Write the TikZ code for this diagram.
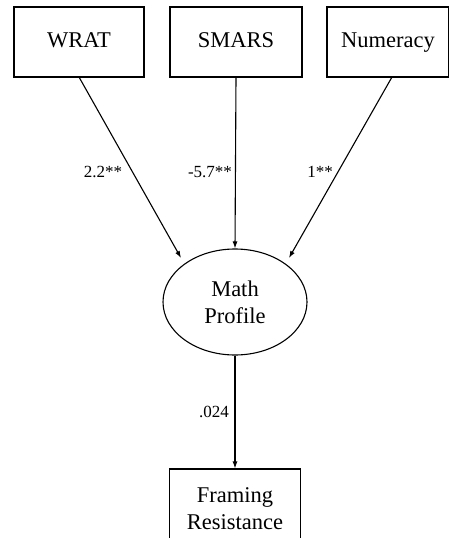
\documentclass[tikz,border=0pt]{standalone}
\usepackage{fontspec}
\setmainfont{Liberation Serif}
\usetikzlibrary{arrows.meta,shapes.geometric}
\begin{document}
\begin{tikzpicture}[x=1pt,y=-1pt,
  obs/.style={draw,line width=1.1pt,minimum width=130pt,minimum height=70pt,inner sep=0pt,font=\fontsize{22.5}{27}\selectfont,align=center},
  lat/.style={draw,ellipse,line width=1.1pt,minimum width=144pt,minimum height=106pt,inner sep=0pt,font=\fontsize{22.5}{27}\selectfont,align=center},
  path/.style={line width=1.1pt,-{Latex[length=7pt,width=5pt]}},
  lbl/.style={font=\fontsize{17}{20}\selectfont,inner sep=0pt}]
\useasboundingbox (0,0) rectangle (449,538);
\node[obs] (wrat) at (79,42) {\strut WRAT};
\node[obs,minimum width=132pt] (smars) at (236,42) {\strut SMARS};
\node[obs,minimum width=122pt] (num) at (388,42) {\strut Numeracy};
\node[lat] (math) at (235,302) {Math\\Profile};
\node[obs,minimum width=131pt,minimum height=80pt] (frame) at (235,509) {Framing\\Resistance};
\draw[path] (79,77) -- (181,258);
\draw[path] (smars.south) -- (math.north);
\draw[path] (392,77) -- (289,258);
\draw[path] (math.south) -- (frame.north);
\node[lbl] at (103,172) {2.2**};
\node[lbl] at (210,172) {-5.7**};
\node[lbl] at (320,172) {1**};
\node[lbl] at (214,412) {.024};
\end{tikzpicture}
\end{document}
